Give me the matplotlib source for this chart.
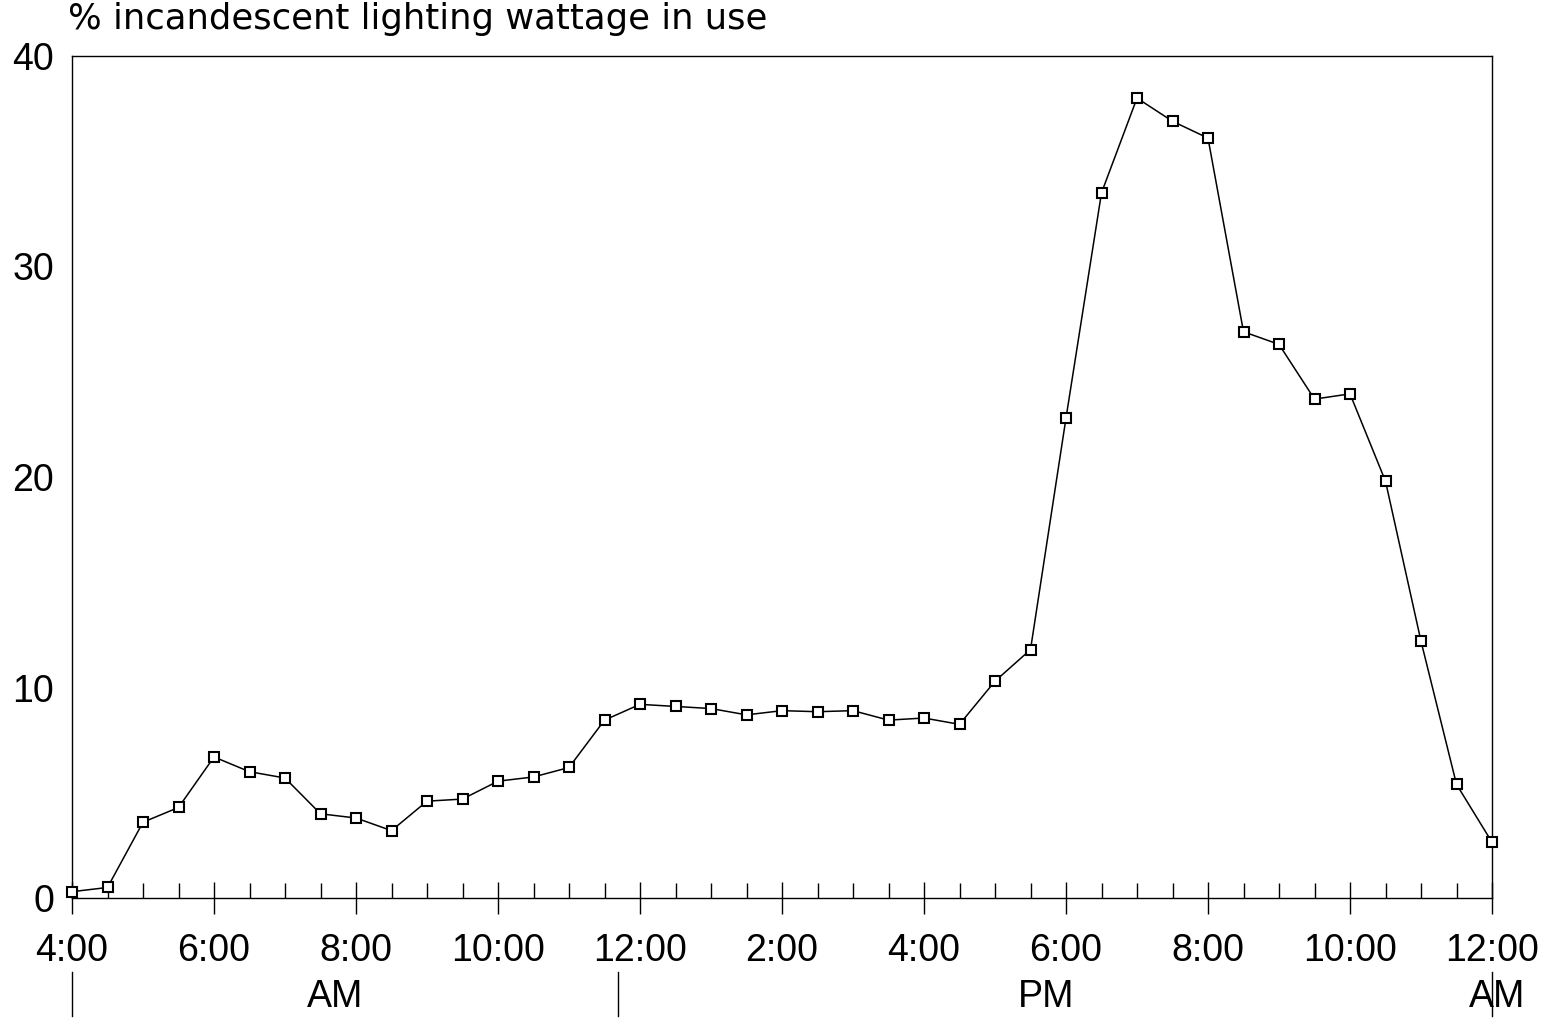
import matplotlib
matplotlib.use("Agg")
import matplotlib.pyplot as plt
from matplotlib.lines import Line2D
import matplotlib.transforms as mtransforms

plt.rcParams['font.family'] = ['Liberation Sans', 'DejaVu Sans']

# hours from 4:00 AM to 12:00 midnight, every half hour
hours = [4 + 0.5 * i for i in range(41)]
pct = [0.3, 0.5, 3.6, 4.3, 6.7, 6.0, 5.7, 4.0, 3.8, 3.2,
       4.6, 4.7, 5.55, 5.75, 6.2, 8.45, 9.2, 9.1, 9.0, 8.7,
       8.9, 8.85, 8.9, 8.45, 8.55, 8.25, 10.3, 11.8, 22.8, 33.5,
       38.0, 36.9, 36.1, 26.9, 26.3, 23.7, 23.95, 19.8, 12.2, 5.4, 2.65]
tick_hours = [4, 6, 8, 10, 12, 14, 16, 18, 20, 22, 24]
tick_labels = ['4:00', '6:00', '8:00', '10:00', '12:00', '2:00', '4:00',
               '6:00', '8:00', '10:00', '12:00']
y_ticks = [0, 10, 20, 30, 40]
period_labels = ['AM', 'PM', 'AM']
period_x = [7.7, 17.72, 24.07]
separator_x = [4, 11.69, 24]

fig = plt.figure(figsize=(15.48, 10.18), dpi=100)
ax = fig.add_axes([72/1548, 1-898/1018, (1492-72)/1548, (898-56)/1018])

ax.plot(hours, pct, color='black', lw=1.1, marker='s', markersize=6.5,
        mfc='white', mec='black', mew=1.5, clip_on=False, zorder=3)

ax.set_xlim(4, 24)
ax.set_ylim(0, 40)
ax.set_xticks(tick_hours)
ax.set_xticklabels(tick_labels, fontsize=27)
ax.set_xticks(hours, minor=True)
ax.set_yticks(y_ticks)
ax.set_yticklabels([str(v) for v in y_ticks], fontsize=27)
ax.tick_params(axis='x', which='major', direction='inout', length=23, width=1.0, pad=14)
ax.tick_params(axis='x', which='minor', direction='in', length=11, width=1.0)
ax.tick_params(axis='y', which='both', length=0, pad=13)
for s in ax.spines.values():
    s.set_linewidth(1.0)

fig.text(68/1548, 1-19/1018, '% incandescent lighting wattage in use',
         fontsize=25.5, ha='left', va='center', family=['DejaVu Sans'])

trans = mtransforms.blended_transform_factory(ax.transData, fig.transFigure)
for lbl, xp in zip(period_labels, period_x):
    ax.text(xp, 1-997/1018, lbl, transform=trans, fontsize=27, ha='center', va='center')
for xs in separator_x:
    ax.add_line(Line2D([xs, xs], [1-1016/1018, 1-972/1018], transform=trans,
                       color='black', lw=1.0, clip_on=False))

fig.savefig('out.png', dpi=100, facecolor='white')
